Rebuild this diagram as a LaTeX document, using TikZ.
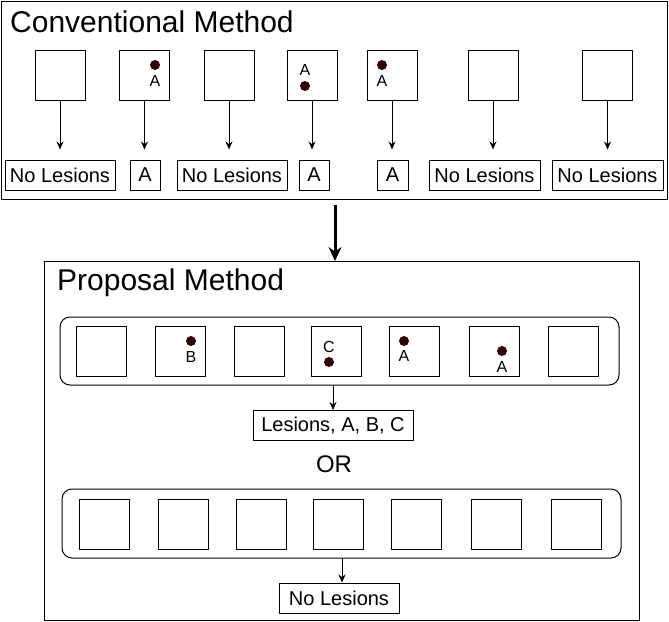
\documentclass[tikz,border=0pt]{standalone}
\usepackage{fontspec}
\setmainfont{Liberation Sans}
\usetikzlibrary{arrows.meta}
\definecolor{dotc}{HTML}{330000}
\tikzset{
  frame/.style={draw, line width=1pt, inner sep=0pt, anchor=north west},
  sq/.style={draw, line width=1pt, minimum width=50pt, minimum height=50pt, inner sep=0pt},
  res/.style={draw, line width=1pt, minimum height=30pt, inner sep=0pt, font=\fontsize{20}{24}\selectfont},
  cont/.style={draw, line width=1pt, rounded corners=10pt, inner sep=0pt},
  lbl/.style={inner sep=0pt, font=\fontsize{16}{19}\selectfont},
  dot/.style={circle, fill=dotc, minimum size=10pt, inner sep=0pt},
  ttl/.style={inner sep=0pt, anchor=west, font=\fontsize{30}{35}\selectfont},
  arr/.style={line width=1pt, -{Stealth[length=8pt,width=7pt]}},
  bigarr/.style={line width=3pt, -{Stealth[length=14pt,width=13pt]}}
}
\begin{document}
\begin{tikzpicture}[x=1pt,y=-1pt]
\useasboundingbox (0,0) rectangle (669,621);
% conventional
\node[frame, minimum width=666pt, minimum height=198pt] (conv) at (1,1) {};
\node[ttl] (convt) at (10,22) {Conventional Method};
\foreach \i/\x in {1/60,2/144.5,3/229,4/312,5/392,6/493,7/607.5}{
  \node[sq] (s\i) at (\x,75) {};
}
\node[res, minimum width=110pt] (r1) at (60,175) {No Lesions};
\node[res, minimum width=30pt] (r2) at (145,175) {A};
\node[res, minimum width=110pt] (r3) at (232,175) {No Lesions};
\node[res, minimum width=30pt] (r4) at (314,175) {A};
\node[res, minimum width=31pt] (r5) at (392.5,175) {A};
\node[res, minimum width=111pt] (r6) at (484.5,175) {No Lesions};
\node[res, minimum width=111pt] (r7) at (607.5,175) {No Lesions};
\foreach \i in {1,...,7}{
  \draw[arr, shorten >=10pt] (s\i.south) -- (s\i.south |- r\i.north);
}
\node[dot] (d2) at (155,65) {};
\node[lbl] (a2) at (155,81) {A};
\node[lbl] (a4) at (305,70) {A};
\node[dot] (d4) at (305,86) {};
\node[dot] (d5) at (382,65) {};
\node[lbl] (a5) at (382,81) {A};
% big arrow
\node[frame, minimum width=595pt, minimum height=359pt] (prop) at (44,261) {};
\coordinate (bigtop) at (335,205);
\draw[bigarr] (bigtop) -- (bigtop |- prop.north) ;
% proposal
\node[ttl] (propt) at (57,283) {Proposal Method};
\node[cont, minimum width=559pt, minimum height=68pt] (c1) at (339.5,351) {};
\foreach \i/\x in {1/101.5,2/180.5,3/259,4/336.5,5/414,6/494,7/573.5}{
  \node[sq] (p\i) at (\x,351) {};
}
\node[dot] (pd2) at (191,341) {};
\node[lbl] (pb2) at (191,357) {B};
\node[lbl] (pc4) at (329,347) {C};
\node[dot] (pd4) at (329,362) {};
\node[dot] (pd5) at (404,341) {};
\node[lbl] (pa5) at (404,356) {A};
\node[dot] (pd6) at (502,351) {};
\node[lbl] (pa6) at (502,367) {A};
\node[res, minimum width=160pt] (lab) at (333,425.5) {Lesions, A, B, C};
\draw[arr] (c1.south -| lab.north) -- (lab.north);
\node[inner sep=0pt, font=\fontsize{24}{28}\selectfont] (or) at (334,464) {OR};
\node[cont, minimum width=559pt, minimum height=69pt] (c2) at (341.5,523.5) {};
\foreach \i/\x in {1/104,2/183,3/261,4/338.5,5/416,6/496,7/576}{
  \node[sq] (q\i) at (\x,524) {};
}
\node[res, minimum width=120pt] (nl) at (339,598) {No Lesions};
\coordinate (c2out) at (342,558);
\draw[arr] (c2out) -- (c2out |- nl.north);
\end{tikzpicture}
\end{document}
